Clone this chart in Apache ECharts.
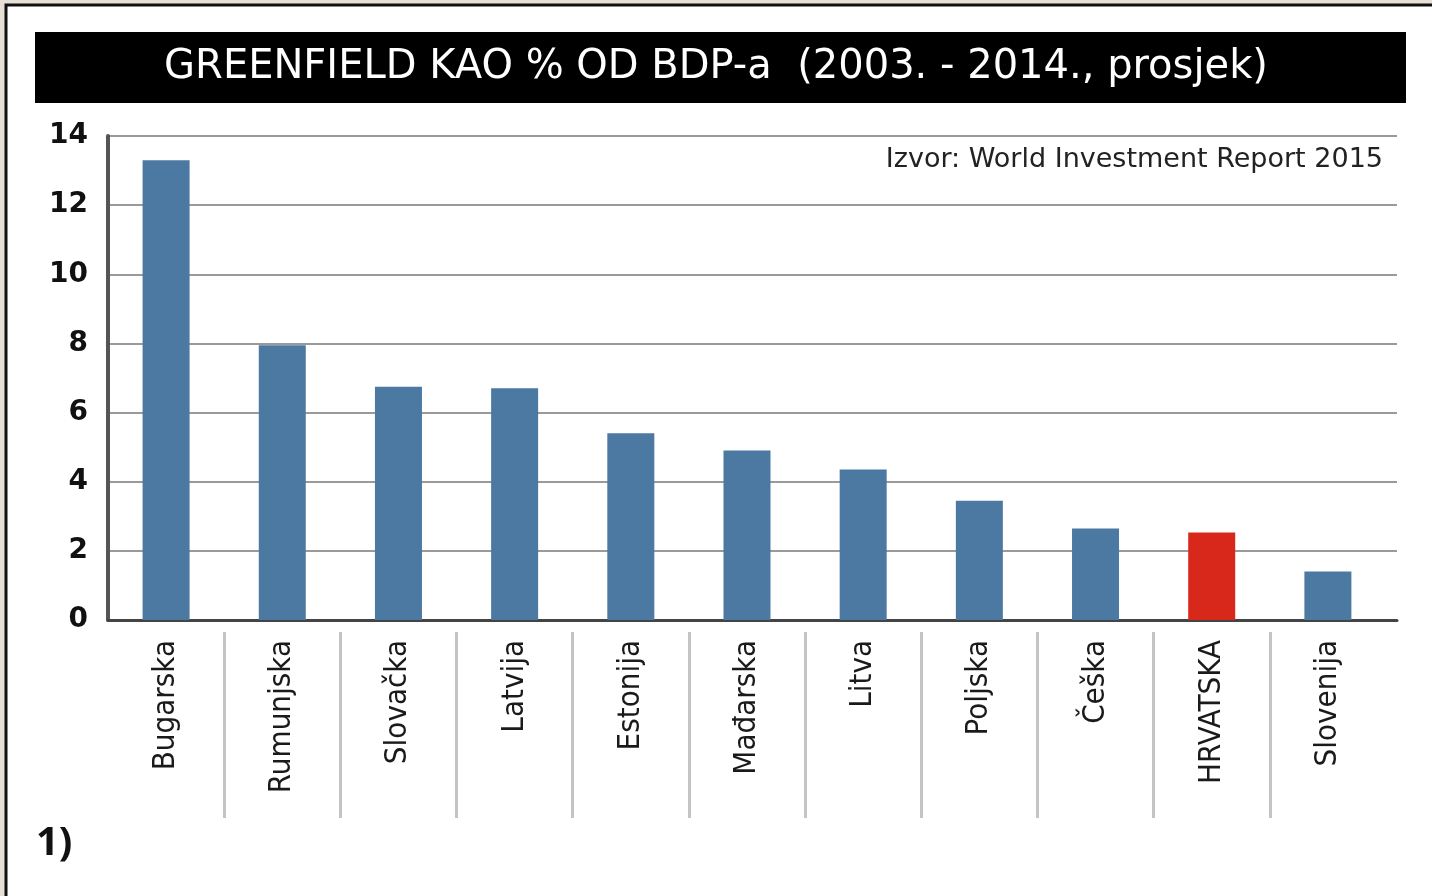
<!DOCTYPE html>
<html>
<head>
<meta charset="utf-8">
<script src="https://cdn.jsdelivr.net/npm/echarts@6/dist/echarts.min.js"></script>
<style>html,body{margin:0;padding:0;background:#e6e0d6;}#c{width:1432px;height:896px;}</style>
</head>
<body>
<div id="c"></div>
<script>
const titleText = 'GREENFIELD KAO % OD BDP-a  (2003. - 2014., prosjek)';
const sourceText = 'Izvor: World Investment Report 2015';
const noteText = '1)';
const categories = ['Bugarska','Rumunjska','Slovačka','Latvija','Estonija','Mađarska','Litva','Poljska','Češka','HRVATSKA','Slovenija'];
const values = [13.3, 7.95, 6.75, 6.7, 5.4, 4.9, 4.35, 3.45, 2.65, 2.53, 1.4];
const highlight = 'HRVATSKA';
const yTicks = [0, 2, 4, 6, 8, 10, 12, 14];

const BLUE = '#4b79a1', RED = '#d8281b';
const yMin = yTicks[0], yMax = yTicks[yTicks.length - 1], yStep = yTicks[1] - yTicks[0];
const chart = echarts.init(document.getElementById('c'), null, {renderer: 'canvas'});
const catW = 116.18, gridLeft = 108, gridTop = 136, gridH = 484;
chart.setOption({
  backgroundColor: '#e6e0d6',
  animation: false,
  graphic: [
    {type: 'rect', z: -10, shape: {x: 6, y: 5, width: 1440, height: 900}, style: {fill: '#ffffff', stroke: '#111', lineWidth: 3}},
    {type: 'rect', z: -5, shape: {x: 35, y: 32, width: 1371, height: 71}, style: {fill: '#000000'}}
  ],
  title: [
    {text: titleText, left: 'center', top: 48, padding: 0,
     textStyle: {color: '#ffffff', fontFamily: 'DejaVu Sans', fontSize: 40, fontWeight: 'normal'}},
    {text: sourceText, right: 49, top: 146, padding: 0,
     textStyle: {color: '#222', fontFamily: 'DejaVu Sans', fontSize: 27, fontWeight: 'normal'}},
    {text: noteText, left: 36, top: 824, padding: 0,
     textStyle: {color: '#111', fontFamily: 'Open Sans', fontSize: 40, fontWeight: 'bold'}}
  ],
  grid: [
    {left: gridLeft, top: gridTop, width: catW * categories.length, height: gridH},
    {left: gridLeft + catW, top: gridTop, width: catW * (categories.length - 2), height: gridH + 12},
    {left: gridLeft, top: gridTop, width: 1289, height: gridH}
  ],
  xAxis: [
    {type: 'category', gridIndex: 0, data: categories,
     axisLine: {show: false},
     axisTick: {show: false},
     axisLabel: {rotate: 90, margin: 20, color: '#1a1a1a', fontFamily: 'DejaVu Sans Condensed', fontSize: 31, interval: 0}},
    {type: 'value', gridIndex: 1, min: 0, max: categories.length - 2, interval: 1,
     axisLine: {show: false}, splitLine: {show: false}, axisLabel: {show: false},
     axisTick: {show: true, inside: false, length: 186, lineStyle: {color: '#c4c4c4', width: 3}}},
    {type: 'value', gridIndex: 2, min: 0, max: 1,
     axisLine: {show: true, lineStyle: {color: '#444', width: 3}},
     axisTick: {show: false}, axisLabel: {show: false}, splitLine: {show: false}}
  ],
  yAxis: [
    {type: 'value', gridIndex: 0, min: yMin, max: yMax, interval: yStep,
     axisLine: {show: true, lineStyle: {color: '#555', width: 4}},
     axisTick: {show: false},
     splitLine: {show: false},
     axisLabel: {margin: 20, color: '#111', fontFamily: 'DejaVu Sans', fontSize: 28, fontWeight: 'bold'}},
    {type: 'value', gridIndex: 1, min: 0, max: 1, show: false},
    {type: 'value', gridIndex: 2, min: yMin, max: yMax, interval: yStep,
     axisLine: {show: false}, axisTick: {show: false}, axisLabel: {show: false},
     splitLine: {show: true, lineStyle: {color: '#9a9a9a', width: 2}}}
  ],
  series: [{
    type: 'bar', xAxisIndex: 0, yAxisIndex: 0, barWidth: 47,
    data: values.map((v, i) => ({value: v, itemStyle: {color: categories[i] === highlight ? RED : BLUE}})),
    z: 3
  }]
});
</script>
</body>
</html>
